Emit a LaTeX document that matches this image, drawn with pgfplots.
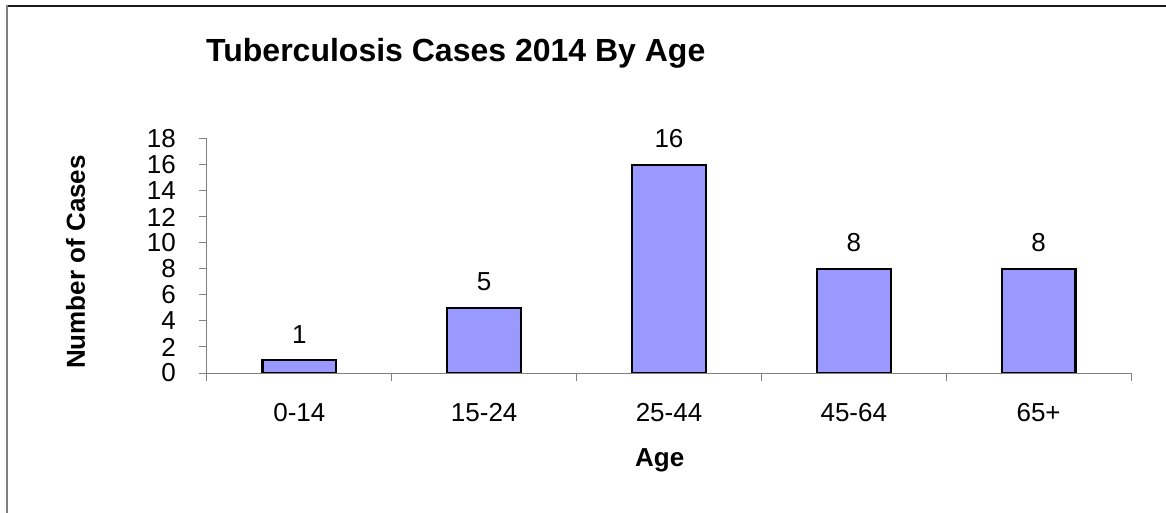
\documentclass[border=0pt]{standalone}
\usepackage{pgfplots}
\pgfplotsset{compat=1.18}
\usepackage{fontspec}
\setmainfont{Liberation Sans}
\definecolor{barblue}{HTML}{9999FF}
\definecolor{axgray}{HTML}{808080}

\begin{document}
\begin{tikzpicture}
\begin{axis}[
  at={(0,0)}, anchor=south west,
  scale only axis, width=924bp, height=234bp,
  ybar, bar width=0.4, bar shift=0pt,
  xmin=-0.5, xmax=4.5, ymin=0, ymax=18,
  axis lines*=left,
  axis line style={axgray, line width=1bp, -},
  xtick={0,...,4},
  xticklabels={0-14,15-24,25-44,45-64,65+},
  minor xtick={-0.5,0.5,...,4.5},
  ytick={0,2,...,18},
  tick align=outside,
  major tick length=8bp, minor tick length=8bp,
  tick style={axgray, line width=1bp},
  major x tick style={draw=none},
  /pgf/number format/assume math mode=true,
  every tick label/.append style={font=\fontsize{26bp}{31bp}\selectfont},
  xticklabel style={anchor=base, yshift=-40bp},
  yticklabel style={anchor=east, inner sep=0pt, xshift=-23bp},
  nodes near coords,
  every node near coord/.append style={font=\fontsize{26bp}{31bp}\selectfont,
    anchor=base, yshift=17bp, text=black},
]
\addplot[fill=barblue, draw=black, line width=2.2bp]
  coordinates {(0,1) (1,5) (2,16) (3,8) (4,8)};
\end{axis}
% title and axis titles
\node[anchor=base west, inner sep=0pt, font=\fontsize{32bp}{38bp}\selectfont\bfseries]
  at (-1bp,311bp) {Tuberculosis Cases 2014 By Age};
\node[anchor=base, inner sep=0pt, font=\fontsize{26bp}{31bp}\selectfont\bfseries]
  at (452.7bp,-93bp) {Age};
\node[anchor=base, rotate=90, inner sep=0pt, font=\fontsize{26bp}{31bp}\selectfont\bfseries]
  at (-122bp,111bp) {Number of Cases};
% outer frame
\draw[line width=2bp, black!90] (-201bp,367bp) -- (970bp,367bp);
\draw[line width=2bp, axgray] (-200bp,-150bp) -- (-200bp,368bp);
\pgfresetboundingbox
\path[use as bounding box] (-207bp,-140bp) rectangle (959bp,373bp);
\end{tikzpicture}
\end{document}
